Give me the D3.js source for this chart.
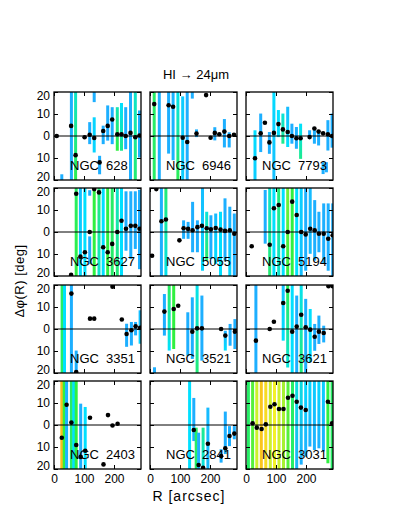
<!DOCTYPE html>
<html>
<head>
<meta charset="utf-8">
<script src="https://cdn.jsdelivr.net/npm/d3@7"></script>
<style>
  body { margin: 0; background: #fff; }
  text { font-family: "Liberation Sans", Arial, sans-serif; fill: #000; }
</style>
</head>
<body>
<div class="chart"></div>
<script>
// bars: [R, top, bottom, colour top, colour bottom]  (colour 0 = blue ... 1 = orange)
var ngc628Dots = [[9,0],[57,4.6],[72,-8.7],[102,-0.6],[119,0.6],[134,-0.9],[152,-12],[164,2.3],[179,4.6],[194,7.5],[211,0.8],[225,0.8],[239,0],[255,1.4],[271,-0.6],[285,0.2]];
var ngc628Bars = [[26,-17.4,-25,0.1],[58,25,-25,0.1],[72,25,-25,0.35,0.55],[119,6.3,-3.7,0.1],[134,25,15.4,0.1],[134,8.5,-7.5,0.25],[152,-9,-17.4,0.1],[164,4.7,-3.7,0.1],[179,13.9,-2.1,0.1],[194,13.1,-3.7,0.1],[211,13.1,-6.7,0.4,0.55],[225,15,-6.7,0.3,0.45],[239,13.1,-6,0.1],[255,25,-25,0.1],[271,25,-25,0.35,0.5],[285,11.6,-9.8,0.1]];

var ngc6946Dots = [[14,14.5],[62,14],[77,13.3],[109,-0.8],[124,-2.7],[155,1.1],[187,18.6],[202,-0.8],[216,1.4],[231,0.8],[248,2.0],[264,0],[280,0.6]];
var ngc6946Bars = [[14,25,-25,0.5],[31,25,-25,0.1],[62,25,-8,0.1],[77,25,-11,0.12],[93,25,-25,0.3,0.55],[109,18,-25,0.22],[124,25,-25,0.1],[141,25,17,0.1],[155,3,-0.5,0.1],[216,4,-2,0.1],[248,7.7,-5.2,0.1],[264,1.7,-5.2,0.1]];

var ngc7793Dots = [[30,-10.1],[49,1.2],[63,6.0],[78,-2.9],[93,1.4],[108,5.4],[123,3.0],[139,1.8],[153,0],[168,-1.0],[182,-1.0],[212,-0.5],[228,3.4],[242,2.0],[257,1.2],[273,0.8],[287,0]];
var ngc7793Bars = [[30,2.6,-25,0.3,0.2],[49,10.2,-7.3,0.1],[78,1.8,-8.1,0.1],[93,25,-25,0.3,0.15],[108,11.8,-0.5,0.3],[123,10.2,-3.5,0.35,0.45],[139,13.3,-5,0.15,0.3],[153,5.6,-3.5,0.1],[168,4.1,-5.8,0.1],[182,5.6,-10.4,0.3,0.45],[212,2.6,-1.2,0.1],[228,4.1,-3.5,0.1],[242,1.8,-4.3,0.1],[257,-11.9,-17.3,0.1],[273,7.2,-6.6,0.1],[268,-11.9,-16.5,0.1],[287,10.2,-5.3,0.1]];

var ngc3627Dots = [[57,-19.5],[74,17.4],[88,-11.2],[103,-9.2],[119,0],[134,19.5],[150,18],[164,-6.9],[179,-9.2],[194,-5.4],[211,0],[225,5.1],[240,1.5],[256,2.8],[271,2.8],[285,1.5]];
var ngc3627Bars = [[74,25,-25,0.5,0.55],[88,25,-25,0.15,0.3],[103,25,-25,0.3],[119,19,16.5,0.1],[119,-2,-14.6,0.1],[134,25,-25,0.55],[150,25,-25,0.5,0.35],[164,25,-25,0.3],[179,25,-25,0.55],[194,25,-25,0.5],[211,25,-25,0.35,0.5],[225,25,-25,0.3],[240,18.5,-8.5,0.1],[256,18.5,-12.3,0.1],[271,18.5,-7.7,0.1],[285,19.2,-16.9,0.1]];

var ngc5055Dots = [[7,-10.8],[21,19.5],[38,4.9],[53,5.7],[98,-3.8],[112,1.7],[127,1.4],[142,0.8],[158,2.2],[173,2.8],[189,1.7],[203,1.2],[219,1.8],[235,1.1],[250,0.5],[266,0.8],[281,-0.8]];
var ngc5055Bars = [[38,25,-25,0.1],[53,25,-25,0.5,0.3],[112,5.3,-3.1,0.1],[127,4.6,-3.1,0.1],[142,13.7,-9.2,0.1],[158,5.3,-9.2,0.1],[175,25,-17.6,0.15,0.25],[189,9.2,-13,0.35,0.5],[203,7.6,-12.2,0.1],[219,8.4,-14.5,0.15,0.3],[235,9.2,-25,0.3],[250,15.3,-13,0.1],[266,11.5,-25,0.1,0.3],[281,8.4,-25,0.1]];

var ngc5194Dots = [[19,-6.5],[79,-5.8],[93,10.8],[109,12.3],[124,-6.5],[139,0],[154,13.8],[169,7.7],[184,0],[199,-1.1],[214,1.5],[229,0.8],[243,-0.8],[259,-0.8],[274,-3.1],[289,-1.5]];
var ngc5194Bars = [[64,19.1,-5.3,0.1],[79,25,-25,0.35,0.5],[93,25,-25,0.3],[109,25,-25,0.5,0.35],[124,25,-25,0.3],[139,25,-25,0.65,0.55],[154,25,-25,0.55],[169,25,-25,0.3],[184,25,-25,0.25,0.15],[199,25,-17.6,0.1],[214,25,-9.9,0.15],[229,14.5,-13,0.1],[243,9.2,-9.2,0.1],[259,13,-14.5,0.1],[274,13,-17.6,0.1],[289,13,-25,0.1]];

var ngc3351Dots = [[58,16.1],[74,-19.6],[120,4.7],[134,4.7],[195,19.2],[226,4.3],[242,-2.3],[258,-0.6],[272,1.2],[287,0.6]];
var ngc3351Bars = [[27,25,-25,0.5],[35,25,-25,0.3],[58,25,-25,0.1],[74,-9.8,-25,0.1],[242,2.4,-8.1,0.1],[258,3.2,-7.5,0.1],[272,3.2,-2.9,0.1],[287,8.5,-6.7,0.15,0.25]];

var ngc3521Dots = [[48,7.9],[79,9.1],[94,10.6],[141,-1.2],[157,0.3],[173,0.3],[237,0],[251,-3],[283,-1.2]];
var ngc3521Bars = [[15,-17.4,-25,0.1],[48,15.9,-3,0.1],[64,25,-9.8,0.55,0.3],[79,25,-9.1,0.55],[126,7.6,-12.1,0.1],[141,14.4,-13.6,0.1],[157,25,-25,0.3,0.5],[173,15.2,-14.4,0.1],[251,-0.8,-9.8,0.1,0.3],[267,2.3,-7.6,0.1],[283,4.5,-9.1,0.1]];

var ngc3621Dots = [[33,-5.3],[79,0],[93,3.3],[124,11.8],[139,17.4],[154,-1.2],[169,1.1],[184,6.5],[199,0.8],[214,-0.3],[229,-3.5],[243,-1.2],[259,-1.8],[275,19.4],[289,19.4]];
var ngc3621Bars = [[33,25,-25,0.1],[124,25,-5.3,0.15,0.3],[139,25,-17.5,0.55,0.35],[154,25,-25,0.3],[169,15.2,-25,0.1],[184,25,-25,0.3,0.5],[199,13.7,-25,0.1],[214,9.1,-15,0.3],[229,2.3,-9.9,0.1],[243,6.1,-6.8,0.1],[259,1.5,-6.1,0.1]];

var ngc2403Dots = [[26,-5.8],[42,9.2],[58,1.1],[74,-9.1],[89,-14.5],[104,-11.7],[120,3.3],[165,-17.9],[180,4.5],[195,-0.2],[212,0.6]];
var ngc2403Bars = [[26,25,-25,0.92],[34,25,-25,0.55],[42,25,-25,0.12],[58,25,-25,0.5],[66,25,-25,0.3],[74,25,-25,0.55],[89,9.7,-25,0.1],[104,8.2,-25,0.3]];

var ngc2841Dots = [[146,-2.3],[162,-18.2],[177,-19.4],[193,-8.5],[237,-14.1],[251,-10.6],[265,-5],[281,-3.9]];
var ngc2841Bars = [[132,25,-25,0.3],[146,12.3,-7.3,0.1],[154,-1.2,-25,0.5],[162,-3.5,-25,0.1],[177,-1.2,-25,0.45,0.3],[193,7.9,-25,0.15],[237,-11,-17.1,0.1],[251,6.1,-13.2,0.1],[265,-0.5,-9.6,0.1],[281,-0.5,-6.5,0.1]];

var ngc3031Dots = [[22,0.8],[36,-1.2],[52,-1.8],[66,0.3],[81,8.3],[95,9.4],[110,7.3],[125,7.3],[140,12.4],[155,13.3],[169,10.6],[183,7.9],[199,6.8],[273,10.6],[287,0.8]];
var ngc3031Bars = [[8,25,-25,0.5],[22,25,-25,0.6],[36,25,-25,0.75],[51,25,-25,0.9],[66,25,-25,0.85],[81,25,-25,0.75],[95,25,-25,0.8],[110,25,-25,0.75],[125,25,-25,0.7],[140,25,-25,0.6],[155,25,-25,0.5],[169,25,-25,0.35,0.1],[184,25,-18,0.35,0.1],[199,25,-14.4,0.3,0.1],[213,25,-9.8,0.3,0.1],[228,25,-11.4,0.25,0.1],[243,25,-10.6,0.3,0.1],[258,25,-12,0.25,0.1],[273,25,-17.4,0.55],[287,25,-25,0.5]];

var galaxyNames = ["NGC  628", "NGC  6946", "NGC  7793", "NGC  3627", "NGC  5055", "NGC  5194",
                   "NGC  3351", "NGC  3521", "NGC  3621", "NGC  2403", "NGC  2841", "NGC  3031"];
var galaxyDots = [ngc628Dots, ngc6946Dots, ngc7793Dots, ngc3627Dots, ngc5055Dots, ngc5194Dots,
                  ngc3351Dots, ngc3521Dots, ngc3621Dots, ngc2403Dots, ngc2841Dots, ngc3031Dots];
var galaxyBars = [ngc628Bars, ngc6946Bars, ngc7793Bars, ngc3627Bars, ngc5055Bars, ngc5194Bars,
                  ngc3351Bars, ngc3521Bars, ngc3621Bars, ngc2403Bars, ngc2841Bars, ngc3031Bars];

var yTicks = [-20, -10, 0, 10, 20];
var yTickLabels = ["20", "10", "0", "10", "20"];
var xTicks = [0, 100, 200];
var xTickLabels = ["0", "100", "200"];

var fullWidth = 393, fullHeight = 505;
var colLeft = [54, 150, 246];
var rowTop = [92, 188, 285, 381];
var pw = 87, ph = 88;

var svg = d3
  .select(".chart")
  .append("svg")
  .attr("width", fullWidth)
  .attr("height", fullHeight);

var defs = svg.append("defs");

var xScale = d3.scaleLinear().domain([0, 290]).range([0, pw]);
var yScale = d3.scaleLinear().domain([-20, 20]).range([ph, 0]);

var colour = d3
  .scaleLinear()
  .domain([0, 0.3, 0.55, 0.8, 1])
  .range(["#2b96ff", "#00e0ff", "#30f040", "#f4f028", "#ff9a14"]);

galaxyNames.forEach(function(name, i) {
  var col = i % 3, row = Math.floor(i / 3);
  var g = svg.append("g").attr("transform", `translate(${colLeft[col]}, ${rowTop[row]})`);

  defs.append("clipPath").attr("id", "clip" + i)
    .append("rect").attr("width", pw).attr("height", ph);

  var plot = g.append("g").attr("clip-path", `url(#clip${i})`);

  // colour gradient for each bar
  galaxyBars[i].forEach(function(b, j) {
    var grad = defs.append("linearGradient")
      .attr("id", `grad${i}_${j}`)
      .attr("x1", 0).attr("y1", 0).attr("x2", 0).attr("y2", 1);
    grad.append("stop").attr("offset", "0%").attr("stop-color", colour(b[3]));
    grad.append("stop").attr("offset", "100%").attr("stop-color", colour(b.length > 4 ? b[4] : b[3]));
  });

  plot.selectAll("rect.bar")
    .data(galaxyBars[i])
    .enter()
    .append("rect")
    .attr("class", "bar")
    .attr("x", d => xScale(d[0]) - 1.5)
    .attr("y", d => yScale(d[1]))
    .attr("width", 3)
    .attr("height", d => yScale(d[2]) - yScale(d[1]))
    .style("fill", (d, j) => `url(#grad${i}_${j})`);

  plot.append("line")
    .attr("x1", 0).attr("x2", pw)
    .attr("y1", yScale(0)).attr("y2", yScale(0))
    .style("stroke", "#000").style("stroke-width", 1);

  plot.selectAll("circle")
    .data(galaxyDots[i])
    .enter()
    .append("circle")
    .attr("cx", d => xScale(d[0]))
    .attr("cy", d => yScale(d[1]))
    .attr("r", 2.3)
    .style("fill", "#000");

  g.append("text")
    .attr("x", 16).attr("y", ph - 10)
    .style("font-size", "13px")
    .attr("xml:space", "preserve")
    .text(name);

  // inward ticks on all four sides
  g.append("g").attr("class", "yaxis").call(
    d3.axisLeft(yScale).tickValues(yTicks).tickSize(-4).tickPadding(4)
      .tickFormat((d, k) => col === 0 ? yTickLabels[k] : ""));
  g.append("g").attr("transform", `translate(${pw}, 0)`).call(
    d3.axisRight(yScale).tickValues(yTicks).tickSize(-4).tickFormat(""));
  g.append("g").call(
    d3.axisTop(xScale).tickValues(xTicks).tickSize(-4).tickFormat(""));
  g.append("g").attr("transform", `translate(0, ${ph})`).call(
    d3.axisBottom(xScale).tickValues(xTicks).tickSize(-4).tickPadding(5)
      .tickFormat((d, k) => row === 3 ? xTickLabels[k] : ""));

  g.selectAll(".domain").remove();
  g.selectAll(".tick line").style("stroke", "#000");
  g.selectAll(".tick text").style("font-size", "12px").style("font-family", "'Liberation Sans', Arial, sans-serif");
  // end labels sit a little inside the frame
  g.selectAll(".yaxis .tick text")
    .attr("dy", d => d === 20 ? "0.62em" : d === -20 ? "0.05em" : "0.32em");

  g.append("rect")
    .attr("width", pw).attr("height", ph)
    .style("fill", "none").style("stroke", "#000").style("stroke-width", 1.3);
});

svg.append("text")
  .attr("x", 196).attr("y", 79)
  .attr("text-anchor", "middle")
  .style("font-size", "13px")
  .text("HI \u2192 24\u03bcm");

svg.append("text")
  .attr("x", 189).attr("y", 501)
  .attr("text-anchor", "middle")
  .style("font-size", "14px")
  .style("letter-spacing", "1px")
  .text("R [arcsec]");

svg.append("text")
  .attr("transform", "translate(24, 281) rotate(-90)")
  .attr("text-anchor", "middle")
  .style("font-size", "13px")
  .style("letter-spacing", "0.5px")
  .text("\u0394\u03c6(R) [deg]");
</script>
</body>
</html>
